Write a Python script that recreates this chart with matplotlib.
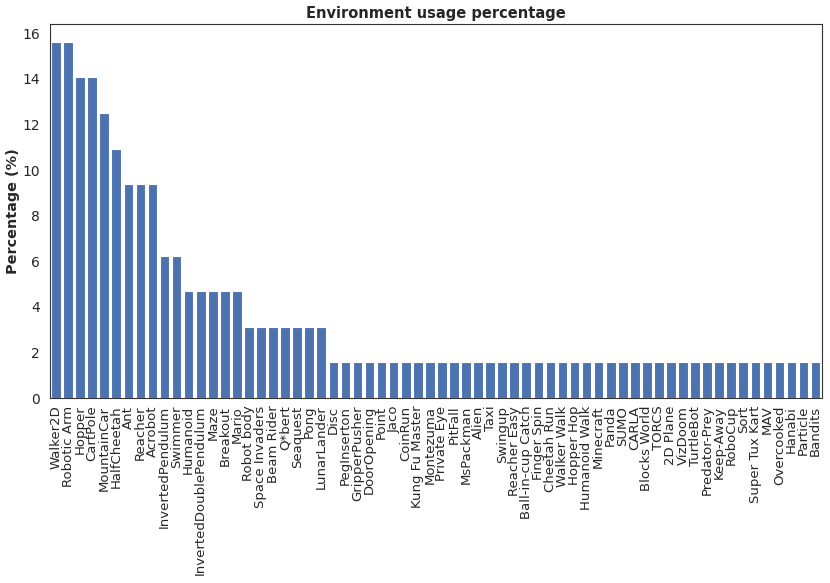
import matplotlib
matplotlib.use("Agg")
import matplotlib.pyplot as plt
import seaborn as sns

sns.set_style("white")
plt.rcParams['font.family'] = ['DejaVu Sans']

envs = ["Walker2D", "Robotic Arm", "Hopper", "CartPole", "MountainCar", "HalfCheetah",
        "Ant", "Reacher", "Acrobot", "InvertedPendulum", "Swimmer", "Humanoid",
        "InvertedDoublePendulum", "Maze", "Breakout", "Mario", "Robot body",
        "Space Invaders", "Beam Rider", "Q*bert", "Seaquest", "Pong", "LunarLander",
        "Disc", "PegInserton", "GripperPusher", "DoorOpening", "Point", "Jaco",
        "CoinRun", "Kung Fu Master", "Montezuma", "Private Eye", "PitFall", "MsPackman",
        "Alien", "Taxi", "Swingup", "Reacher Easy", "Ball-in-cup Catch", "Finger Spin",
        "Cheetah Run", "Walker Walk", "Hopper Hop", "Humanoid Walk", "Minecraft", "Panda",
        "SUMO", "CARLA", "Blocks World", "TORCS", "2D Plane", "VizDoom", "TurtleBot",
        "Predator-Prey", "Keep-Away", "RoboCup", "Sort", "Super Tux Kart", "MAV",
        "Overcooked", "Hanabi", "Particle", "Bandits"]
percent = [15.625, 15.625, 14.0625, 14.0625, 12.5, 10.9375,
           9.375, 9.375, 9.375, 6.25, 6.25, 4.6875,
           4.6875, 4.6875, 4.6875, 4.6875, 3.125,
           3.125, 3.125, 3.125, 3.125, 3.125, 3.125] + [1.5625] * 41

fig = plt.figure(figsize=(8.3, 5.83), dpi=100)
ax = fig.add_axes([0.0602, 0.3173, 0.9298, 0.6415])
x = list(range(len(envs)))
ax.bar(x, percent, width=0.8, color="#4c72b0", edgecolor="white", linewidth=0.8)
ax.set_xlim(-0.5, len(envs) - 0.5)
ax.set_ylim(0, max(percent) * 1.05)
ax.set_xticks(x)
ax.set_xticklabels(envs, rotation=90, fontsize=9.5)
ax.tick_params(axis='y', labelsize=10)
ax.tick_params(axis='x', pad=2)
ax.set_ylabel("Percentage (%)", fontsize=10.4, fontweight="bold", labelpad=2)
ax.set_title("Environment usage percentage", fontsize=10.5, fontweight="bold", pad=4)
for s in ax.spines.values():
    s.set_color("#333333")
fig.savefig("out.png", dpi=100)
